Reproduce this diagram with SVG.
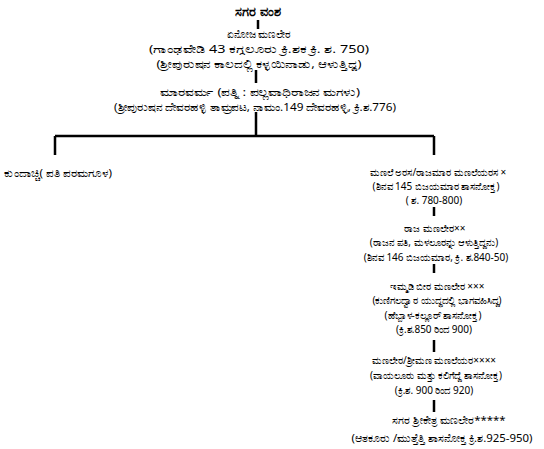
<svg xmlns="http://www.w3.org/2000/svg" width="544" height="449" viewBox="0 0 544 449">
<style>
text{font-family:"Noto Sans","DejaVu Sans",sans-serif;font-size:10px;fill:#000;text-anchor:middle}
.t{font-weight:bold;font-size:12.5px}
.u{font-size:10.8px}
.b{font-size:11.4px}
.c{stroke:#000;stroke-width:2.5;fill:none}
</style>
<rect width="544" height="449" fill="#fff"/>
<g id="connectors">
<path class="c" d="M258 20V29"/>
<path class="c" d="M256 70V83"/>
<path class="c" d="M256 112V136M55 136H434M55 136V155M434 136V155"/>
<path class="c" d="M434 207V216"/>
<path class="c" d="M434 264V273"/>
<path class="c" d="M434 340V352"/>
<path class="c" d="M434 400V412"/>
</g>
<g id="title"><text class="t" x="258" y="16">ಸಗರ ವಂಶ</text></g>
<g id="n1">
<text class="u" x="259" y="38" textLength="64" lengthAdjust="spacingAndGlyphs">ಏನೋಜ ಮಣಲೇರ</text>
<text class="u" x="259" y="53" textLength="220" lengthAdjust="spacingAndGlyphs">(ಗಾಂಢವೇಡಿ 43 ಕಗ್ಗಲೂರು ಕ್ರಿ.ಶಕ ಕ್ರಿ. ಶ. 750)</text>
<text class="u" x="259" y="68" textLength="205" lengthAdjust="spacingAndGlyphs">(ಶ್ರೀಪುರುಷನ ಕಾಲದಲ್ಲಿ ಕಳ್ಳಯಿನಾಡು, ಆಳುತ್ತಿದ್ದ)</text>
</g>
<g id="n2">
<text class="u" x="260" y="96" textLength="200" lengthAdjust="spacingAndGlyphs">ಮಾರವರ್ಮ (ಪತ್ನಿ : ಪಲ್ಲವಾಧಿರಾಜನ ಮಗಳು)</text>
<text class="u" x="255" y="111" textLength="282" lengthAdjust="spacingAndGlyphs">(ಶ್ರೀಪುರುಷನ ದೇವರಹಳ್ಳಿ ತಾಮ್ರಪಟ, ನಾಮಂ.149 ದೇವರಹಳ್ಳಿ, ಕ್ರಿ.ಶ.776)</text>
</g>
<g id="n3"><text class="u" x="58" y="177" textLength="108" lengthAdjust="spacingAndGlyphs">ಕುಂದಾಚ್ಚಿ( ಪತಿ ಪರಮಗೂಳ)</text></g>
<g id="n4">
<text x="438" y="176">ಮಣಲೆ ಅರಸ/ರಾಜಮಾರ ಮಣಲೆಯರಸ ×</text>
<text x="436" y="190">(ಶಿನವ 145 ಬಿಜಯಮಾರ ಶಾಸನೋಕ್ತ)</text>
<text x="434" y="204">( ಶ. 780-800)</text>
</g>
<g id="n5">
<text x="435" y="232">ರಾಜ ಮಣಲೇರ××</text>
<text x="434" y="246">(ರಾಜನ ಪತಿ, ಮಳಲೂರನ್ನು ಆಳುತ್ತಿದ್ದನು)</text>
<text x="436" y="261">(ಶಿನವ 146 ಬಿಜಯಮಾರ, ಕ್ರಿ. ಶ.840-50)</text>
</g>
<g id="n6">
<text x="437" y="290">ಇಮ್ಮಡಿ ಬೀರ ಮಣಲೇರ ×××</text>
<text x="437" y="304">(ಕುಣಿಗಲದ್ವಾರ ಯುದ್ಧದಲ್ಲಿ ಭಾಗವಹಿಸಿದ್ದ)</text>
<text x="433" y="319">(ಹೆಬ್ಬಾಳ-ಕಲ್ಲೂರ್ ಶಾಸನೋಕ್ತ)</text>
<text x="434" y="333">(ಕ್ರಿ.ಶ.850 ರಿಂದ 900)</text>
</g>
<g id="n7">
<text x="434" y="364">ಮಣಲೇರ/ಶ್ರೀಮಣ ಮಣಲೆಯರ××××</text>
<text x="436" y="379">(ವಾಯಲೂರು ಮತ್ತು ಕಲಿಗೆದ್ದೆ ಶಾಸನೋಕ್ತ)</text>
<text x="434" y="394">(ಕ್ರಿ.ಶ. 900 ರಿಂದ 920)</text>
</g>
<g id="n8">
<text class="b" x="449" y="424">ಸಗರ ಶ್ರೀಕೇತ್ರ ಮಣಲೇರ*****</text>
<text class="b" x="442" y="442">(ಆತಕೂರು /ಮುತ್ತೆತ್ತಿ ಶಾಸನೋಕ್ತ ಕ್ರಿ.ಶ.925-950)</text>
</g>
</svg>
